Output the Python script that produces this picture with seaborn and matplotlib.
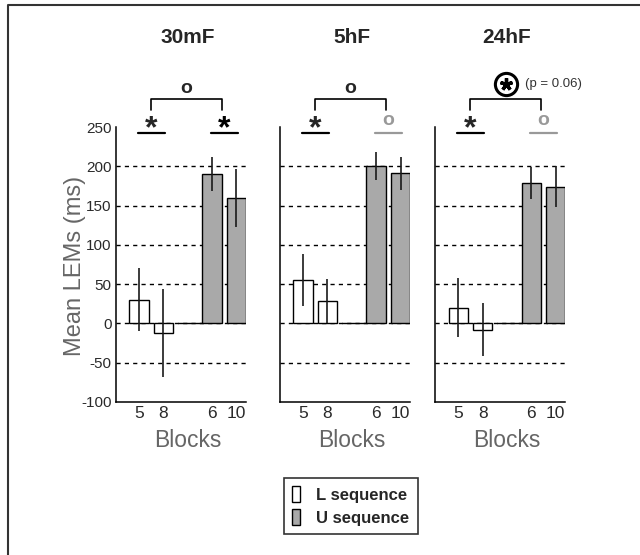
import pandas as pd
import matplotlib.pyplot as plt
import seaborn as sns
from matplotlib.lines import Line2D
from matplotlib.patches import Patch

# data
sessions = ["30mF", "5hF", "24hF"]
block_labels = ["5", "8", "", "6", "10"]
sequence = ["L", "L", "U", "U"]
bar_pos = [1, 2, 4, 5]

lems_30mF = [30, -12, 190, 160]
lems_5hF = [55, 29, 200, 191]
lems_24hF = [20, -8, 179, 174]
err_30mF = [40, 56, 22, 37]
err_5hF = [33, 28, 18, 21]
err_24hF = [38, 34, 20, 26]

# significance marks per session (L pair, U pair, between)
l_marks = ["*", "*", "*"]
u_marks = ["*", "o", "o"]
u_signif = [True, False, False]
between_marks = ["o", "o", "circled"]
between_note = ["", "", "(p = 0.06)"]

all_lems = [lems_30mF, lems_5hF, lems_24hF]
all_errs = [err_30mF, err_5hF, err_24hF]
grid_levels = [-50, 0, 50, 100, 150, 200]

sns.set_theme(style="white")
plt.rcParams["font.family"] = ["Liberation Sans", "DejaVu Sans"]
plt.rcParams["axes.unicode_minus"] = False

fill = {"L": "white", "U": "#a9a9a9"}
label_gray = "#666666"
mark_gray = "#999999"

fig = plt.figure(figsize=(6.4, 5.55), dpi=100)
lefts = [0.181, 0.4375, 0.680]

for i, name in enumerate(sessions):
    ax = fig.add_axes([lefts[i], 0.276, 0.2035, 0.495])
    for g in grid_levels:
        ax.axhline(g, color="black", lw=1.0, ls=(0, (3, 3)), zorder=0.5)

    df = pd.DataFrame({"pos": bar_pos, "lem": all_lems[i], "seq": sequence})
    sns.barplot(data=df, x="pos", y="lem", hue="seq", native_scale=True,
                palette=fill, edgecolor="black", linewidth=1.0, width=0.8,
                dodge=False, legend=False, errorbar=None, ax=ax)
    ax.errorbar(bar_pos, all_lems[i], yerr=all_errs[i], fmt="none",
                ecolor="#1a1a1a", elinewidth=1.2, capsize=0, zorder=3)
    # baseline between the two groups
    ax.plot([bar_pos[1] + 0.6, bar_pos[2] - 0.4], [0, 0], color="black", lw=1.0, zorder=3)

    ax.set_xlim(0.05, 5.4)
    ax.set_ylim(-100, 250)
    ax.set_xticks([1, 2, 3, 4, 5])
    ax.set_xticklabels(block_labels)
    ax.set_yticks(range(-100, 251, 50))
    ax.tick_params(direction="in", length=4, width=1, color="black",
                   labelcolor="#2a2a2a", pad=3)
    ax.tick_params(axis="x", labelsize=12.5)
    ax.tick_params(axis="y", labelsize=11)
    if i > 0:
        ax.tick_params(axis="y", labelleft=False)
    for s in ["top", "right"]:
        ax.spines[s].set_visible(False)
    for s in ["left", "bottom"]:
        ax.spines[s].set_color("black")
        ax.spines[s].set_linewidth(1.1)

    ax.set_ylabel("")
    ax.set_xlabel("Blocks", fontsize=16.5, color=label_gray)
    ax.xaxis.set_label_coords((3 - 0.05) / 5.35, -0.10)

    # title
    ax.text(3, 364, name, ha="center", va="center", fontsize=15,
            fontweight="bold", clip_on=False)

    # underlines with marks
    lx = [bar_pos[0] - 0.05, bar_pos[1] + 0.05]
    ux = [bar_pos[2] - 0.05, bar_pos[3] + 0.05]
    ax.plot(lx, [242, 242], color="black", lw=1.6, clip_on=False)
    ax.text(sum(lx) / 2, 237, l_marks[i], ha="center", va="baseline",
            fontsize=23, fontweight="bold", clip_on=False)
    ucol = "black" if u_signif[i] else mark_gray
    ax.plot(ux, [242, 242], color=ucol, lw=1.6, clip_on=False)
    if u_marks[i] == "*":
        ax.text(sum(ux) / 2, 237, "*", ha="center", va="baseline",
                fontsize=23, fontweight="bold", color=ucol, clip_on=False)
    else:
        ax.text(sum(ux) / 2, 253, "o", ha="center", va="baseline",
                fontsize=14, fontweight="bold", color=ucol, clip_on=False)

    # bracket between L and U
    bx0, bx1 = bar_pos[0] + 0.5, bar_pos[2] + 0.4
    ax.plot([bx0, bx0, bx1, bx1], [272, 286, 286, 272], color="black",
            lw=1.2, clip_on=False)
    bc = (bx0 + bx1) / 2
    if between_marks[i] == "o":
        ax.text(bc, 294, "o", ha="center", va="baseline", fontsize=14,
                fontweight="bold", clip_on=False)
    else:
        ax.plot(bc, 305, marker="o", ms=16, mfc="white", mec="black",
                mew=2.2, clip_on=False, zorder=4)
        ax.plot(bc, 305, marker=(5, 2, 0), ms=9, mec="black", mew=2.4,
                clip_on=False, zorder=5)
        ax.text(3.75, 305, between_note[i], ha="left", va="center",
                fontsize=9.5, color="#333333", clip_on=False)

fig.text(75 / 640, 0.521, "Mean LEMs (ms)", rotation=90, ha="center",
         va="center", fontsize=17, color=label_gray)

handles = [Patch(facecolor=fill["L"], edgecolor="black", label="L sequence"),
           Patch(facecolor=fill["U"], edgecolor="black", label="U sequence")]
leg = fig.legend(handles=handles, loc="center", bbox_to_anchor=(0.548, 0.088),
                 frameon=True, fancybox=False, edgecolor="black",
                 prop={"weight": "bold", "size": 12}, handlelength=0.45,
                 handleheight=1.1, handletextpad=1.0, borderpad=0.5,
                 labelspacing=0.4, borderaxespad=0)
leg.get_frame().set_linewidth(1.2)

# outer frame (top and left edges visible)
fig.add_artist(Line2D([8 / 640, 8 / 640, 1], [0, 1 - 5 / 555, 1 - 5 / 555],
                      transform=fig.transFigure, color="#333333", lw=1.5))

fig.savefig("out.png", dpi=100)
